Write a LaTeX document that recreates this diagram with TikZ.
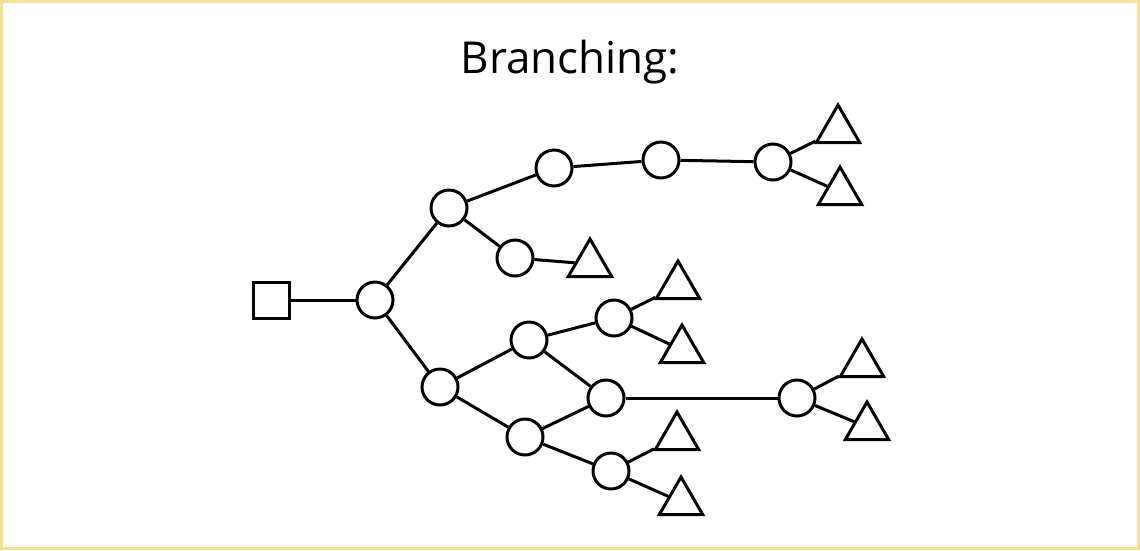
\documentclass[tikz,border=0pt]{standalone}
\usepackage{fontspec}
\setmainfont{Open Sans}
\usetikzlibrary{shapes.geometric}
\begin{document}
\begin{tikzpicture}[x=1pt,y=-1pt,
  c/.style={circle,draw,line width=3pt,minimum size=36pt,inner sep=0pt,fill=white},
  t/.style={regular polygon,regular polygon sides=3,draw,line width=3pt,minimum size=50pt,inner sep=0pt,fill=white},
  s/.style={rectangle,draw,line width=3pt,minimum size=36pt,inner sep=0pt,fill=white},
  e/.style={line width=3pt}]
\useasboundingbox (0,0) rectangle (1140,550);
\draw[line width=3pt,draw={rgb,255:red,245;green,226;blue,150}] (1.5,1.5) rectangle (1138.5,548.5);
\node[font=\fontsize{44pt}{50pt}\selectfont] (title) at (570,62) {Branching:};
\node[s] (S) at (271,300) {};
\node[c] (A) at (375,300) {};
\node[c] (B) at (449,208) {};
\node[c] (C) at (554,168) {};
\node[c] (D) at (661,160) {};
\node[c] (E) at (773,162) {};
\node[t] (T1) at (838,130) {};
\node[t] (T2) at (840,192) {};
\node[c] (F) at (515,258) {};
\node[t] (T3) at (590,264) {};
\node[c] (G) at (440,387) {};
\node[c] (H) at (529,340) {};
\node[c] (I) at (614,318) {};
\node[t] (T4) at (678,286) {};
\node[t] (T5) at (682,350) {};
\node[c] (J) at (606,398) {};
\node[c] (K) at (797,398) {};
\node[t] (T6) at (862,364) {};
\node[t] (T7) at (867,427) {};
\node[c] (L) at (525,437) {};
\node[c] (M) at (611,471) {};
\node[t] (T8) at (677,437) {};
\node[t] (T9) at (681,502) {};
\begin{scope}[on background layer/.style={}]
\end{scope}
\draw[e] (S) -- (A); \draw[e] (A) -- (B); \draw[e] (B) -- (C); \draw[e] (C) -- (D);
\draw[e] (D) -- (E); \draw[e] (E) -- (T1); \draw[e] (E) -- (T2);
\draw[e] (B) -- (F); \draw[e] (F) -- (T3);
\draw[e] (A) -- (G); \draw[e] (G) -- (H); \draw[e] (H) -- (I);
\draw[e] (I) -- (T4); \draw[e] (I) -- (T5);
\draw[e] (H) -- (J); \draw[e] (G) -- (L); \draw[e] (L) -- (J);
\draw[e] (J) -- (K); \draw[e] (K) -- (T6); \draw[e] (K) -- (T7);
\draw[e] (L) -- (M); \draw[e] (M) -- (T8); \draw[e] (M) -- (T9);
\end{tikzpicture}
\end{document}
